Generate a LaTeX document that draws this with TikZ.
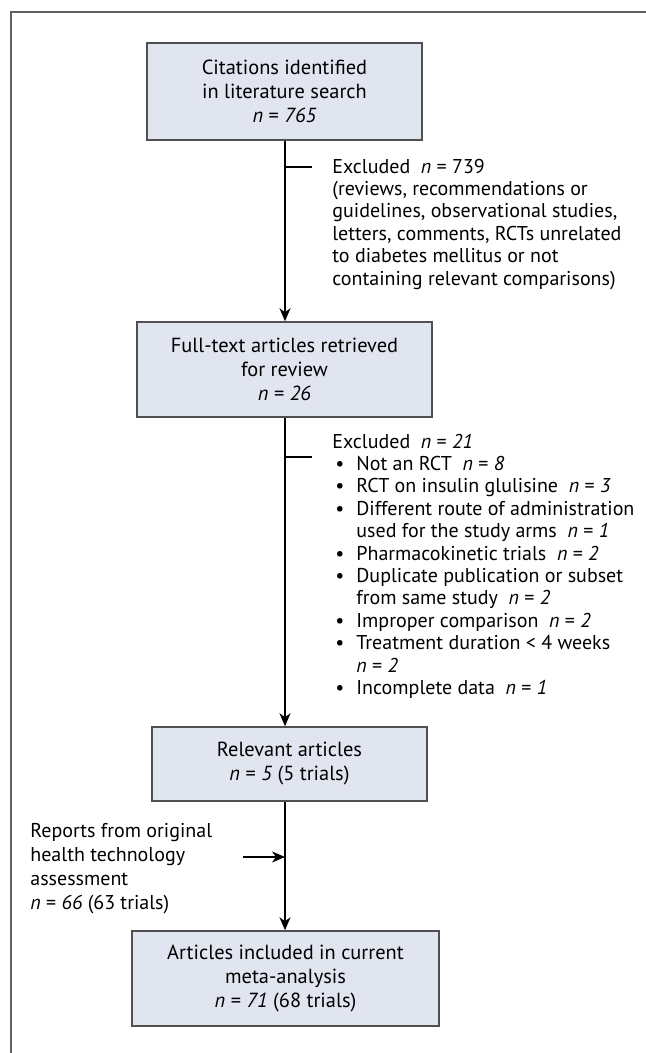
\documentclass[tikz,border=0pt]{standalone}
\usepackage{fontspec}
\setmainfont{PT Sans}
\usetikzlibrary{arrows.meta}
\definecolor{boxfill}{HTML}{E1E5F0}
\definecolor{boxline}{HTML}{505050}
\definecolor{framegray}{HTML}{606060}
\tikzset{
  box/.style={draw=boxline,line width=0.75pt,fill=boxfill,align=center,inner sep=0pt,font=\fontsize{10.2}{12}\selectfont},
  note/.style={anchor=north west,inner sep=0pt,align=left,font=\fontsize{10}{11.2}\selectfont},
  link/.style={-{Stealth[length=6.5pt,width=5.5pt,inset=2pt]},line width=0.6pt}
}
\newcommand{\nn}[1]{\textit{n}~=~\textit{#1}}
\newcommand{\bul}{\makebox[4pt][l]{\textbullet}}

\begin{document}
\begin{tikzpicture}[x=0.5pt,y=-0.5pt]
\useasboundingbox (0,0) rectangle (646,1053);
\draw [framegray,line width=1pt] (10.5,1053) -- (10.5,12.5) -- (646,12.5);
\coordinate (spine) at (285,0);
\node (cites) [box,minimum width=137.5pt,minimum height=48.5pt] at (284.5,91.5) {Citations identified\\in literature search\\\nn{765}};
\node (fulltext) [box,minimum width=147.5pt,minimum height=47.5pt] at (284.5,369.5) {Full-text articles retrieved\\for review\\\nn{26}};
\node (relevant) [box,minimum width=137.5pt,minimum height=37pt] at (289.5,764) {Relevant articles\\\nn{5} (5 trials)};
\node (included) [box,minimum width=153.5pt,minimum height=47.5pt] at (285.5,978.5) {Articles included in current\\meta-analysis\\\nn{71} (68 trials)};
\node (excl1) [note] at (332,157) {\strut Excluded\ \ \textit{n} = 739\\(reviews, recommendations or\\guidelines, observational studies,\\letters, comments, RCTs unrelated\\to diabetes mellitus or not\\containing relevant comparisons)};
\node (excl2) [note] at (332,432) {\begin{tabular}{@{\hspace{1.5pt}}l@{\hspace{6.5pt}}l@{}}
\multicolumn{2}{@{}l@{}}{Excluded\ \ \nn{21}}\\
\bul & Not an RCT\ \ \nn{8}\\
\bul & RCT on insulin glulisine\ \ \nn{3}\\
\bul & Different route of administration\\
 & used for the study arms\ \ \nn{1}\\
\bul & Pharmacokinetic trials\ \ \nn{2}\\
\bul & Duplicate publication or subset\\
 & from same study\ \ \nn{2}\\
\bul & Improper comparison\ \ \nn{2}\\
\bul & Treatment duration < 4 weeks\\
 & \nn{2}\\
\bul & Incomplete data\ \ \nn{1}
\end{tabular}};
\node (hta) [note,font=\fontsize{10}{12}\selectfont] at (30,820) {\strut Reports from original\\health technology\\assessment\\\nn{66} (63 trials)};
\coordinate (cut1) at (285,167);
\coordinate (cut2) at (285,457);
\coordinate (join) at (285,857);
\coordinate (htaend) at (243,857);
\draw [line width=0.6pt] (cut1) -- ++(27,0);
\draw [line width=0.6pt] (cut2) -- ++(27,0);
\draw [link] (cites.south -| spine) -- (fulltext.north -| spine);
\draw [link] (fulltext.south -| spine) -- (relevant.north -| spine);
\draw [link] (relevant.south -| spine) -- (included.north -| spine);
\draw [link] (htaend) -- (join);
\end{tikzpicture}
\end{document}
